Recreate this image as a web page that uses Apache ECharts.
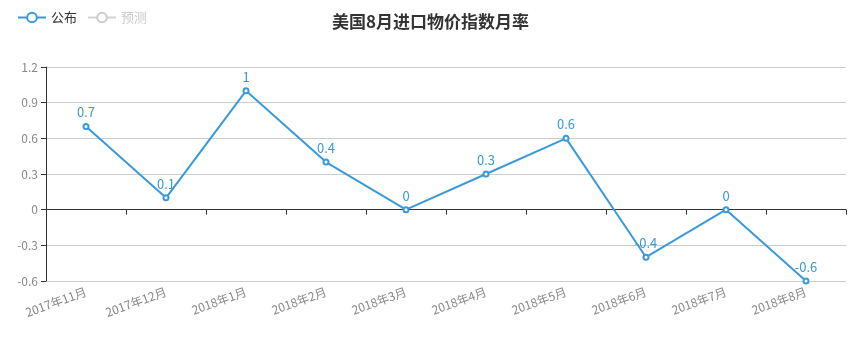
<!DOCTYPE html>
<html><head><meta charset="utf-8">
<script src="https://cdn.jsdelivr.net/npm/echarts@6/dist/echarts.min.js"></script>
<style>html,body{margin:0;padding:0;background:#fff}#c{width:861px;height:343px}</style>
</head><body><div id="c"></div>
<script>
const categories = ['2017年11月','2017年12月','2018年1月','2018年2月','2018年3月','2018年4月','2018年5月','2018年6月','2018年7月','2018年8月'];
const published = [0.7, 0.1, 1, 0.4, 0, 0.3, 0.6, -0.4, 0, -0.6];
const forecast = [];
const yMin = -0.6, yMax = 1.2, yInterval = 0.3;

const font = '"Noto Sans CJK SC", "Noto Sans", sans-serif';
const chart = echarts.init(document.getElementById('c'));
chart.setOption({
  animation: false,
  textStyle: { fontFamily: font },
  title: { text: '美国8月进口物价指数月率', left: 'center', top: 8,
    textStyle: { fontSize: 17, fontWeight: 'bold', color: '#333', fontFamily: font } },
  legend: { left: 12, top: 6, itemWidth: 28, itemHeight: 12, itemGap: 10,
    textStyle: { color: '#333', fontSize: 13 }, inactiveColor: '#ccc',
    data: ['公布', '预测'], selected: { '公布': true, '预测': false } },
  grid: { left: 46, right: 15, top: 67, bottom: 62 },
  xAxis: [{
    type: 'category', data: categories, boundaryGap: true,
    axisLine: { onZero: true, lineStyle: { color: '#333' } },
    axisTick: { show: true, interval: 0, alignWithLabel: false, lineStyle: { color: '#333' } },
    axisLabel: { show: false, interval: 0 }, splitLine: { show: false }
  }, {
    type: 'category', data: categories, boundaryGap: true, position: 'bottom',
    axisLine: { show: false, onZero: false }, axisTick: { show: false },
    axisLabel: { rotate: 20, color: '#888', fontSize: 12, margin: 10, interval: 0 }
  }],
  yAxis: {
    type: 'value', min: yMin, max: yMax, interval: yInterval,
    axisLine: { show: true, lineStyle: { color: '#333' } },
    axisTick: { show: true, lineStyle: { color: '#333' } },
    axisLabel: { color: '#888', fontSize: 12 },
    splitLine: { lineStyle: { color: '#ccc' } }
  },
  series: [{
    name: '公布', type: 'line', data: published, xAxisIndex: 0,
    symbol: 'emptyCircle', symbolSize: 5,
    itemStyle: { color: '#3a9ad9', borderWidth: 1 }, lineStyle: { width: 2, color: '#3a9ad9' },
    label: { show: true, position: 'top', distance: 4, color: '#3a9ad9', fontSize: 13 }
  }, {
    name: '预测', type: 'line', data: forecast, xAxisIndex: 0,
    symbol: 'emptyCircle', symbolSize: 5, itemStyle: { color: '#999', borderWidth: 1 }
  }]
});
</script></body></html>
